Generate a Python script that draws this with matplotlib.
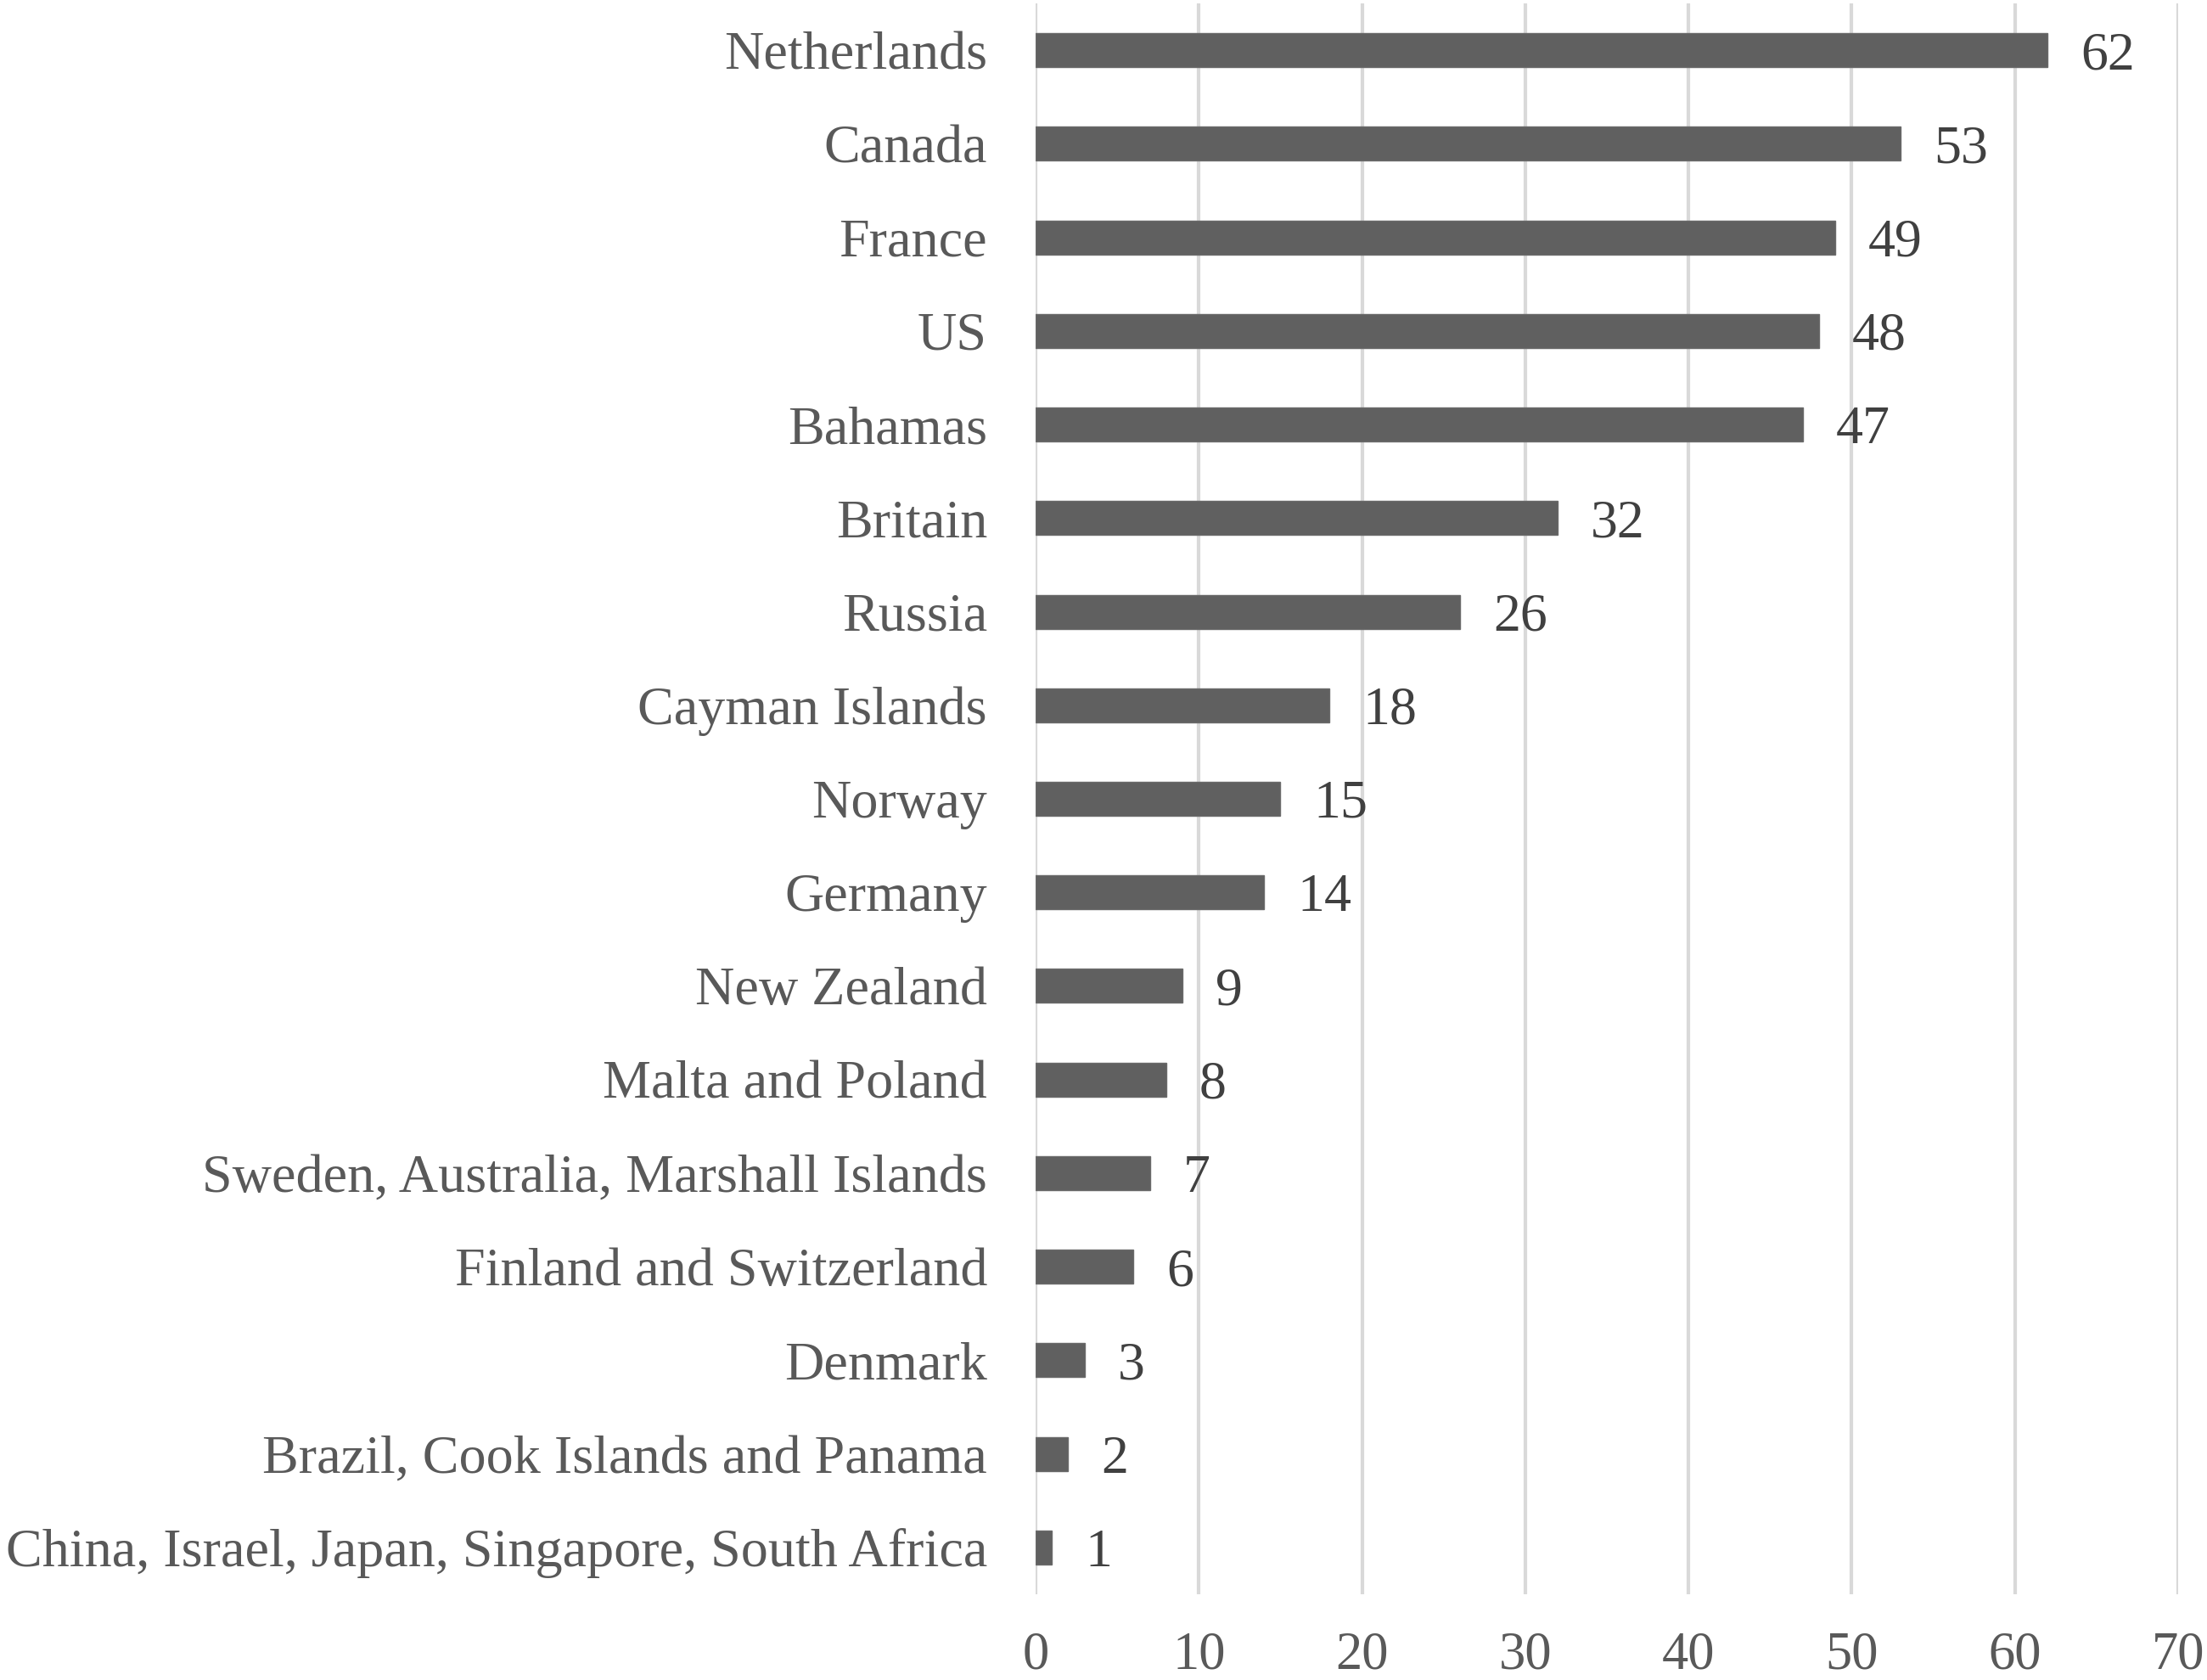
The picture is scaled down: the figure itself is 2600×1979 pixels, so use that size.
import matplotlib
matplotlib.use("Agg")
import matplotlib.pyplot as plt

categories = [
    "Netherlands", "Canada", "France", "US", "Bahamas", "Britain", "Russia",
    "Cayman Islands", "Norway", "Germany", "New Zealand", "Malta and Poland",
    "Sweden, Australia, Marshall Islands", "Finland and Switzerland", "Denmark",
    "Brazil, Cook Islands and Panama",
    "China, Israel, Japan, Singapore, South Africa",
]
values = [62, 53, 49, 48, 47, 32, 26, 18, 15, 14, 9, 8, 7, 6, 3, 2, 1]
xticks = [0, 10, 20, 30, 40, 50, 60, 70]

plt.rcParams['font.family'] = ['Liberation Serif', 'DejaVu Serif']

fig = plt.figure(figsize=(26, 19.79), dpi=100)
ax = fig.add_axes([0.46923, 0.05104, 0.5177, 0.94694])

ypos = list(range(len(categories)))
ax.barh(ypos, values, height=0.363, color="#606060", edgecolor="#6a6a6a",
        linewidth=1.0, zorder=3)

for y, v in zip(ypos, values):
    ax.annotate(str(v), xy=(v, y), xytext=(28, 0), textcoords="offset points",
                ha="left", va="center_baseline", fontsize=46, color="#404040")

ax.set_xlim(0, 70)
ax.set_ylim(len(categories) - 0.5, -0.5)
ax.set_xticks(xticks)
ax.set_xticklabels([str(t) for t in xticks])
ax.set_yticks(ypos)
ax.set_yticklabels(categories)

ax.tick_params(axis="y", length=0, pad=41, labelsize=46.2, labelcolor="#595959")
ax.tick_params(axis="x", length=0, pad=31, labelsize=45, labelcolor="#595959")

ax.xaxis.grid(True, color="#d9d9d9", linewidth=3.0, zorder=0)
ax.yaxis.grid(False)
for s in ax.spines.values():
    s.set_visible(False)
ax.set_axisbelow(True)

fig.savefig("out.png", dpi=100)
